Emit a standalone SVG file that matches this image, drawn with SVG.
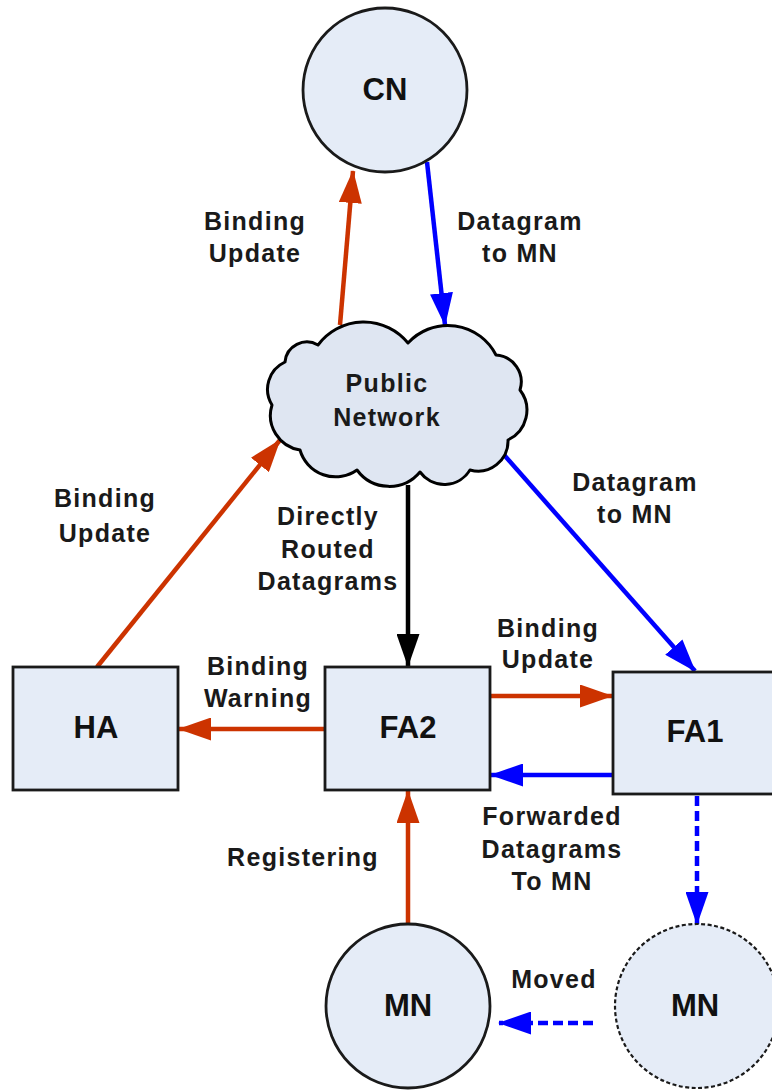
<svg xmlns="http://www.w3.org/2000/svg" width="772" height="1091" viewBox="0 0 772 1091">
  <style>
    .node { fill: #e5ecf7; stroke: #1a1a1a; stroke-width: 2.8; }
    .ghost { fill: #e5ecf7; stroke: #1a1a1a; stroke-width: 2.2; stroke-dasharray: 4 2.5; }
    .cloud { fill: #dfe6f2; stroke: #000; stroke-width: 3; stroke-linejoin: round; }
    .title { font-family: "Liberation Sans", Arial, sans-serif; font-weight: bold; font-size: 31px; fill: #111; text-anchor: middle; }
    .lbl { font-family: "Liberation Sans", Arial, sans-serif; font-weight: bold; font-size: 25px; letter-spacing: 1.3px; fill: #1a1a1a; text-anchor: middle; }
    .red { stroke: #cc3300; stroke-width: 4.5; fill: none; marker-end: url(#ahRed); }
    .blue { stroke: #0000ff; stroke-width: 4.5; fill: none; marker-end: url(#ahBlue); }
    .black { stroke: #000; stroke-width: 4.5; fill: none; marker-end: url(#ahBlack); }
    .dash { stroke: #0000ff; stroke-width: 4.5; fill: none; stroke-dasharray: 10 5; marker-end: url(#ahBlue); }
  </style>
  <defs>
    <marker id="ahRed" markerUnits="userSpaceOnUse" markerWidth="33" markerHeight="23" refX="32" refY="11.5" orient="auto">
      <path d="M0,0 L33,11.5 L0,23 z" fill="#cc3300"/>
    </marker>
    <marker id="ahBlue" markerUnits="userSpaceOnUse" markerWidth="33" markerHeight="23" refX="32" refY="11.5" orient="auto">
      <path d="M0,0 L33,11.5 L0,23 z" fill="#0000ff"/>
    </marker>
    <marker id="ahBlack" markerUnits="userSpaceOnUse" markerWidth="33" markerHeight="23" refX="32" refY="11.5" orient="auto">
      <path d="M0,0 L33,11.5 L0,23 z" fill="#000"/>
    </marker>
  </defs>

  <rect width="772" height="1091" fill="#fff"/>

  <!-- connectors -->
  <g id="connectors">
    <line class="red" x1="97" y1="667" x2="280" y2="440"/>
    <line class="red" x1="340" y1="325" x2="353" y2="171"/>
    <line class="blue" x1="427" y1="162" x2="445" y2="325"/>
    <line class="blue" x1="497" y1="447" x2="695" y2="671"/>
    <line class="black" x1="408" y1="485" x2="408" y2="666"/>
    <line class="red" x1="325" y1="729" x2="179" y2="729"/>
    <line class="red" x1="490" y1="696" x2="612" y2="696"/>
    <line class="blue" x1="613" y1="775" x2="491" y2="775"/>
    <line class="red" x1="408" y1="925" x2="408" y2="791"/>
    <line class="dash" x1="697" y1="796" x2="697" y2="924"/>
    <line class="dash" x1="593" y1="1023" x2="499" y2="1023"/>
  </g>

  <!-- connector labels -->
  <g id="labels">
    <text class="lbl" x="255" y="230">Binding</text>
    <text class="lbl" x="255" y="262">Update</text>
    <text class="lbl" x="520" y="230">Datagram</text>
    <text class="lbl" x="520" y="262">to MN</text>
    <text class="lbl" x="105" y="507">Binding</text>
    <text class="lbl" x="105" y="542">Update</text>
    <text class="lbl" x="328" y="525">Directly</text>
    <text class="lbl" x="328" y="558">Routed</text>
    <text class="lbl" x="328" y="590">Datagrams</text>
    <text class="lbl" x="635" y="491">Datagram</text>
    <text class="lbl" x="635" y="523">to MN</text>
    <text class="lbl" x="548" y="637">Binding</text>
    <text class="lbl" x="548" y="668">Update</text>
    <text class="lbl" x="258" y="675">Binding</text>
    <text class="lbl" x="258" y="707">Warning</text>
    <text class="lbl" x="552" y="825">Forwarded</text>
    <text class="lbl" x="552" y="858">Datagrams</text>
    <text class="lbl" x="552" y="890">To MN</text>
    <text class="lbl" x="303" y="866">Registering</text>
    <text class="lbl" x="554" y="988">Moved</text>
  </g>

  <!-- correspondent node -->
  <g id="CN">
    <circle class="node" cx="385" cy="90" r="82"/>
    <text class="title" x="385" y="100">CN</text>
  </g>

  <!-- public network cloud -->
  <g id="PublicNetwork">
    <path class="cloud" d="M318,345 A57,57 0 0 1 408,343 A54,54 0 0 1 496,355 A27,27 0 0 1 520,390 A33,33 0 0 1 508,440 A30,30 0 0 1 470,470 A30,30 0 0 1 420,472 A40,40 0 0 1 357,470 A37,37 0 0 1 300,450 A35,35 0 0 1 272,405 A30,30 0 0 1 285,362 A22,22 0 0 1 318,345 z"/>
    <text class="lbl" x="387" y="392">Public</text>
    <text class="lbl" x="387" y="426">Network</text>
  </g>

  <!-- home agent -->
  <g id="HA">
    <rect class="node" x="13" y="667" width="165" height="123"/>
    <text class="title" x="96" y="738">HA</text>
  </g>

  <!-- foreign agent 2 -->
  <g id="FA2">
    <rect class="node" x="325" y="667" width="165" height="123"/>
    <text class="title" x="408" y="738">FA2</text>
  </g>

  <!-- foreign agent 1 -->
  <g id="FA1">
    <rect class="node" x="613" y="672" width="166" height="122"/>
    <text class="title" x="695" y="742">FA1</text>
  </g>

  <!-- mobile node, current position -->
  <g id="MN">
    <circle class="node" cx="408" cy="1006" r="82"/>
    <text class="title" x="408" y="1016">MN</text>
  </g>

  <!-- mobile node, previous position -->
  <g id="MN_prev">
    <circle class="ghost" cx="697" cy="1006" r="82"/>
    <text class="title" x="695" y="1016">MN</text>
  </g>
</svg>
